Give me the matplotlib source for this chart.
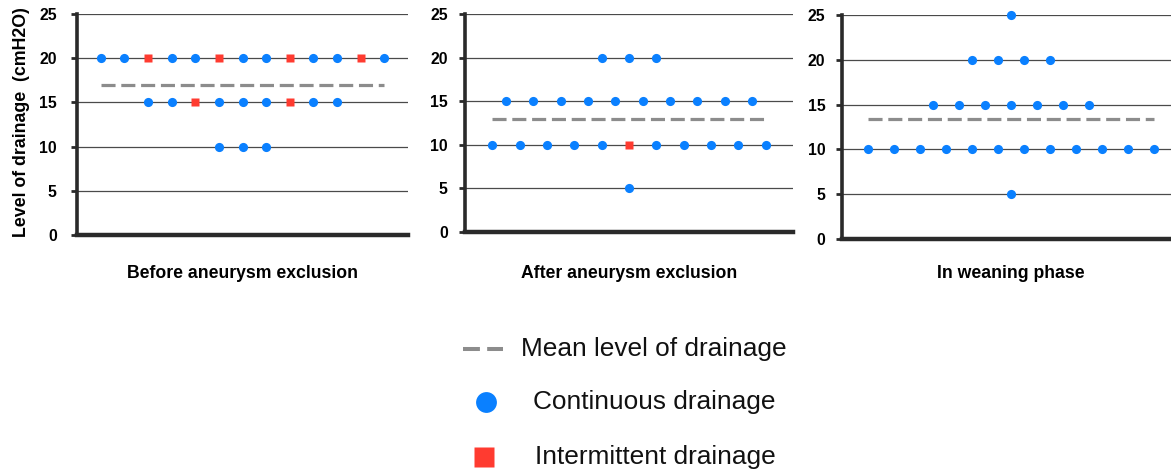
import matplotlib
matplotlib.use("Agg")
import matplotlib.pyplot as plt
from matplotlib.lines import Line2D

plt.rcParams['font.family'] = ['Liberation Sans', 'DejaVu Sans']

# ---- data: for each panel, drainage levels and the drainage type of each patient at that level
# C = continuous drainage, I = intermittent drainage
panel_titles = ["Before aneurysm exclusion", "After aneurysm exclusion", "In weaning phase"]

before_levels = [20, 15, 10]
before_types = ["CCICCICCICCIC", "CCICCCICC", "CCC"]

after_levels = [20, 15, 10, 5]
after_types = ["CCC", "CCCCCCCCCC", "CCCCCICCCCC", "C"]

weaning_levels = [25, 20, 15, 10, 5]
weaning_types = ["C", "CCCC", "CCCCCCC", "CCCCCCCCCCCC", "C"]

y_ticks = [0, 5, 10, 15, 20, 25]
y_label = "Level of drainage  (cmH2O)"
legend_labels = ["Mean level of drainage", "Continuous drainage", "Intermittent drainage"]

BLUE = "#0A80FF"
RED = "#FF3B30"
GRAY = "#8C8C8C"

W, H = 1171, 475
fig = plt.figure(figsize=(W / 100, H / 100), dpi=100)

def px_rect(left, top, right, bottom):
    return [left / W, 1 - bottom / H, (right - left) / W, (bottom - top) / H]

rects = [px_rect(77, 14, 408, 235), px_rect(465, 14, 793, 232), px_rect(842, 15, 1180, 239)]
panels = [(before_levels, before_types), (after_levels, after_types), (weaning_levels, weaning_types)]
label_pads = [10.5, 8.5, 8.0]

for i, ((levels, types), rect, title) in enumerate(zip(panels, rects, panel_titles)):
    ax = fig.add_axes(rect)
    nmax = max(len(t) for t in types)
    center = (nmax + 1) / 2
    total, count = 0, 0
    for lvl, t in zip(levels, types):
        n = len(t)
        for j, c in enumerate(t):
            x = center + (j - (n - 1) / 2)
            if c == "C":
                ax.plot(x, lvl, 'o', color=BLUE, ms=6.6, mec='none', zorder=4, clip_on=False)
            else:
                ax.plot(x, lvl, 's', color=RED, ms=6.0, mec='none', zorder=4, clip_on=False)
            total += lvl
            count += 1
    mean = total / count
    ax.plot([1, nmax], [mean, mean], color=GRAY, lw=2.3, dashes=(4.4, 1.8),
            solid_capstyle='butt', dash_capstyle='butt', zorder=3)
    ax.set_xlim(0, nmax + 1)
    ax.set_ylim(0, 25)
    ax.set_yticks(y_ticks)
    for yv in y_ticks[1:]:
        ax.axhline(yv, color='#4a4a4a', lw=0.9, zorder=1)
    ax.set_xticks([])
    for s in ['top', 'right']:
        ax.spines[s].set_visible(False)
    ax.spines['left'].set_linewidth(2.6)
    ax.spines['left'].set_color('#2a2a2a')
    ax.spines['bottom'].set_linewidth(3.2)
    ax.spines['bottom'].set_color('#2a2a2a')
    ax.tick_params(axis='y', length=4, width=2, color='#2a2a2a', pad=label_pads[i],
                   labelsize=11.4)
    for lab in ax.get_yticklabels():
        lab.set_fontweight('bold')
    cx = (rect[0] + rect[2] / 2)
    fig.text(cx, 1 - 273 / H, title, ha='center', va='center',
             fontsize=12.7, fontweight='bold')
    if i == 0:
        fig.text(22 / W, 1 - 122 / H, y_label, rotation=90, ha='center', va='center',
                 fontsize=12.8, fontweight='bold')

# ---- legend drawn in figure coordinates
leg_y = [349, 402, 457]
fig.add_artist(Line2D([463 / W, 503 / W], [1 - leg_y[0] / H] * 2, color=GRAY, lw=2.9,
                      dashes=(4.2, 1.8), transform=fig.transFigure))
fig.add_artist(Line2D([486 / W], [1 - leg_y[1] / H], marker='o', ms=15, color=BLUE,
                      mec='none', transform=fig.transFigure))
fig.add_artist(Line2D([484 / W], [1 - leg_y[2] / H], marker='s', ms=15, color=RED,
                      mec='none', transform=fig.transFigure))
text_x = [521, 533, 535]
for lab, tx, ty in zip(legend_labels, text_x, leg_y):
    fig.text(tx / W, 1 - ty / H, lab, ha='left', va='center', fontsize=18.9, color='#111111')

fig.savefig("out.png", dpi=100)
